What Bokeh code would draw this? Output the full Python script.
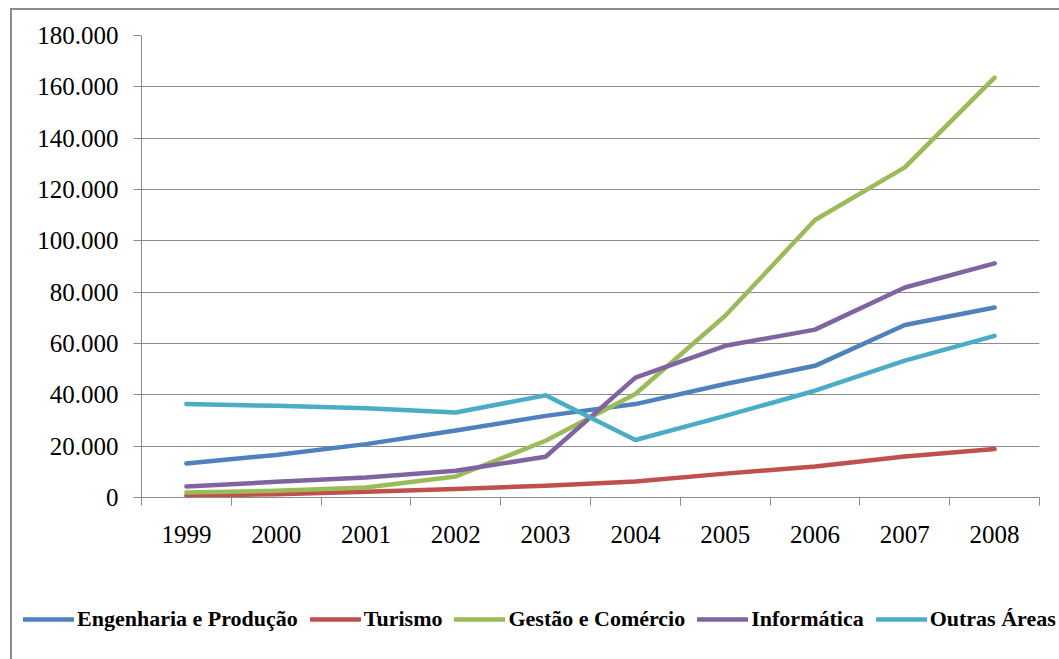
from bokeh.plotting import figure
from bokeh.layouts import column
from bokeh.models import Range1d, FixedTicker, Legend, LegendItem
from bokeh.embed import file_html
from bokeh.resources import INLINE

# Enrolment by area of study, 1999-2008
years = [1999, 2000, 2001, 2002, 2003, 2004, 2005, 2006, 2007, 2008]

engenharia_producao = [13250, 16600, 20800, 26100, 31800, 36400, 44200, 51300, 67200, 74000]
turismo = [700, 1300, 2200, 3300, 4600, 6200, 9300, 12100, 16000, 18900]
gestao_comercio = [1950, 2600, 3900, 8200, 22100, 40300, 70800, 108100, 128600, 163600]
informatica = [4300, 6100, 7800, 10400, 15900, 46700, 59100, 65400, 81800, 91200]
outras_areas = [36400, 35700, 34800, 33100, 39800, 22400, 31800, 41600, 53300, 63000]

series_names = ["Engenharia e Produção", "Turismo", "Gestão e Comércio",
                "Informática", "Outras Áreas"]
series_values = [engenharia_producao, turismo, gestao_comercio, informatica, outras_areas]
series_colors = ["#4F81BD", "#C0504D", "#9BBB59", "#8064A2", "#4BACC6"]

y_ticks = [0, 20000, 40000, 60000, 80000, 100000, 120000, 140000, 160000, 180000]
y_tick_labels = ["0", "20.000", "40.000", "60.000", "80.000", "100.000",
                 "120.000", "140.000", "160.000", "180.000"]

GRID = "#8C8C8C"
SERIF = "Liberation Serif"
LINE_W = 4.5

# ---- main chart ----
p = figure(width=1047, height=560, output_backend="svg", toolbar_location=None,
           x_range=Range1d(years[0] - 0.5, years[-1] + 0.5),
           y_range=Range1d(y_ticks[0], y_ticks[-1]),
           min_border_left=129, min_border_right=20,
           min_border_top=25, min_border_bottom=73)
p.frame_align = False
p.outline_line_color = None
p.background_fill_color = "white"
p.border_fill_color = "white"

# x axis: year labels centred in each slot, tick marks on slot boundaries
xa = p.xaxis[0]
xa.ticker = FixedTicker(ticks=years, minor_ticks=[y - 0.5 for y in years] + [years[-1] + 0.5])
xa.major_tick_out = 0
xa.major_tick_in = 0
xa.minor_tick_out = 8
xa.minor_tick_in = 0
xa.minor_tick_line_color = GRID
xa.axis_line_color = GRID
xa.major_label_text_font = SERIF
xa.major_label_text_font_size = "25px"
xa.major_label_text_color = "black"
xa.major_label_standoff = 20
xa.major_label_overrides = {y: str(y) for y in years}

ya = p.yaxis[0]
ya.ticker = FixedTicker(ticks=y_ticks)
ya.major_label_overrides = dict(zip(y_ticks, y_tick_labels))
ya.major_tick_out = 8
ya.major_tick_in = 0
ya.minor_tick_out = 0
ya.minor_tick_in = 0
ya.major_tick_line_color = GRID
ya.axis_line_color = GRID
ya.major_label_text_font = SERIF
ya.major_label_text_font_size = "25px"
ya.major_label_text_color = "black"
ya.major_label_standoff = 15

p.xgrid.grid_line_color = None
p.ygrid.grid_line_color = GRID
p.ygrid.grid_line_width = 1

for vals, col in zip(series_values, series_colors):
    p.line(years, vals, line_color=col, line_width=LINE_W,
           line_join="round", line_cap="round")

# ---- legend strip below the chart ----
# its frame spans the whole strip; the series lie outside its ranges,
# so only their legend entries show
leg = figure(width=1047, height=89, output_backend="svg", toolbar_location=None,
             x_range=Range1d(0, 1), y_range=Range1d(0, 1),
             min_border=0, x_axis_type=None, y_axis_type=None)
leg.frame_align = False
leg.outline_line_color = None
leg.grid.visible = False
leg.border_fill_color = "white"
leg.background_fill_color = "white"

items = []
for name, vals, col in zip(series_names, series_values, series_colors):
    r = leg.line(years, vals, line_color=col, line_width=LINE_W, line_cap="round")
    items.append(LegendItem(label=name, renderers=[r]))

legend = Legend(items=items, orientation="horizontal", location=(11, 27),
                glyph_width=51, glyph_height=24, label_height=24,
                label_standoff=3, spacing=12, padding=0, margin=0,
                border_line_color=None, background_fill_alpha=0,
                label_text_font=SERIF, label_text_font_style="bold",
                label_text_font_size="22px", label_text_color="black")
leg.add_layout(legend, "center")

# chart-area frame: only its left and top edges fall inside the page
layout = column(p, leg, spacing=0, margin=(8, 0, 0, 10),
                styles={"border-left": "2px solid #8C8C8C",
                        "border-top": "2px solid #8C8C8C",
                        "background-color": "white"})

open("out.html", "w").write(file_html(layout, INLINE))
